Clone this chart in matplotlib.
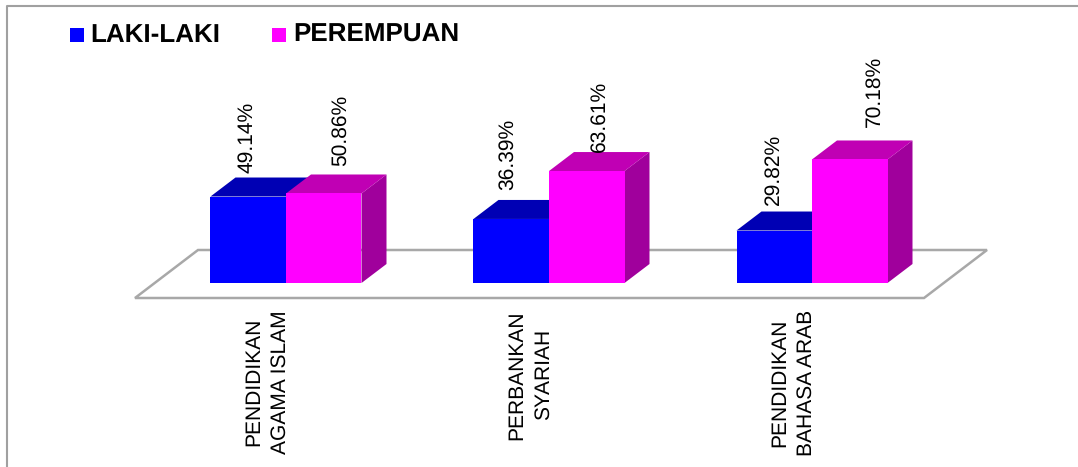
import matplotlib
matplotlib.use("Agg")
import matplotlib.pyplot as plt
from matplotlib.patches import Polygon, Rectangle

plt.rcParams['font.family'] = ['Liberation Sans', 'DejaVu Sans']
plt.rcParams['text.hinting'] = 'no_hinting'
plt.rcParams['text.hinting_factor'] = 1

categories = ["PENDIDIKAN\nAGAMA ISLAM", "PERBANKAN\nSYARIAH", "PENDIDIKAN\nBAHASA ARAB"]
laki = [49.14, 36.39, 29.82]
perempuan = [50.86, 63.61, 70.18]
series_names = ["LAKI-LAKI", "PEREMPUAN"]

W, H = 1078, 467
BASE_Y = 283      # pixel row of the value zero
PX_PER_PCT = 1.76
GROUP_PX = 263
FIRST_PX = 286
BAR_W = 75.5/GROUP_PX
DX = 25/GROUP_PX
DY = 19/PX_PER_PCT

BLUE = ("#0000ff", "#0000b4", "#00009c")
PINK = ("#ff00ff", "#c000b4", "#a0009c")

# hand placed label nudges, px from bar centre / px above the box
laki_nudge = [(-1, 5), (-4, 10), (-1, 7)]
perempuan_nudge = [(17, 8), (13, 0), (25, 13)]


def px_x(p):
    return (p-FIRST_PX)/GROUP_PX


def px_y(p):
    return (BASE_Y-p)/PX_PER_PCT


def bar3d(ax, x, val, cols):
    # front, top and side faces of one box
    ax.add_patch(Polygon([(x+BAR_W, 0), (x+BAR_W+DX, DY), (x+BAR_W+DX, val+DY), (x+BAR_W, val)],
                         fc=cols[2], ec="none", zorder=3))
    ax.add_patch(Polygon([(x, val), (x+DX, val+DY), (x+BAR_W+DX, val+DY), (x+BAR_W, val)],
                         fc=cols[1], ec="none", zorder=3))
    ax.add_patch(Rectangle((x, 0), BAR_W, val, fc=cols[0], ec="none", zorder=4))


def value_label(ax, xc, val, nudge):
    ax.text(xc+nudge[0]/GROUP_PX, val+DY+nudge[1]/PX_PER_PCT, f"{val:.2f}%", rotation=90,
            ha="center", va="bottom", fontsize=15.2, color="black", zorder=5)


fig = plt.figure(figsize=(W/100, H/100), dpi=100)
ax = fig.add_axes([0, 0, 1, 1])
ax.set_xlim(px_x(0), px_x(W))
ax.set_ylim(px_y(H), px_y(0))
ax.axis("off")

# outer frame
ax.plot([px_x(7), px_x(7), px_x(W)], [px_y(H), px_y(6), px_y(6)], color="#a0a0a0", lw=1.5, zorder=1)

# floor
ax.add_patch(Polygon([(px_x(135), px_y(298)), (px_x(924), px_y(298)), (px_x(987), px_y(250)), (px_x(198), px_y(250))],
                     fc="white", ec="#a8a8a8", lw=1.8, zorder=2))

for i in range(len(categories)):
    bar3d(ax, i-BAR_W, laki[i], BLUE)
    bar3d(ax, i, perempuan[i], PINK)
    value_label(ax, i-BAR_W/2, laki[i], laki_nudge[i])
    value_label(ax, i+BAR_W/2, perempuan[i], perempuan_nudge[i])
    ax.text(i-19/GROUP_PX, px_y(310), categories[i], rotation=90, ha="center", va="top", multialignment="center",
            fontsize=15.2, color="black", linespacing=1.42, zorder=5)

# legend
for name, col, xs, xt in zip(series_names, (BLUE[0], PINK[0]), (70, 272), (90, 293)):
    ax.add_patch(Rectangle((px_x(xs), px_y(42)), 14/GROUP_PX, 14/PX_PER_PCT, fc=col, ec="none"))
    ax.text(px_x(xt), px_y(35), name, fontsize=19, fontweight="bold", va="center", ha="left", color="black")

fig.savefig("out.png", dpi=100)
